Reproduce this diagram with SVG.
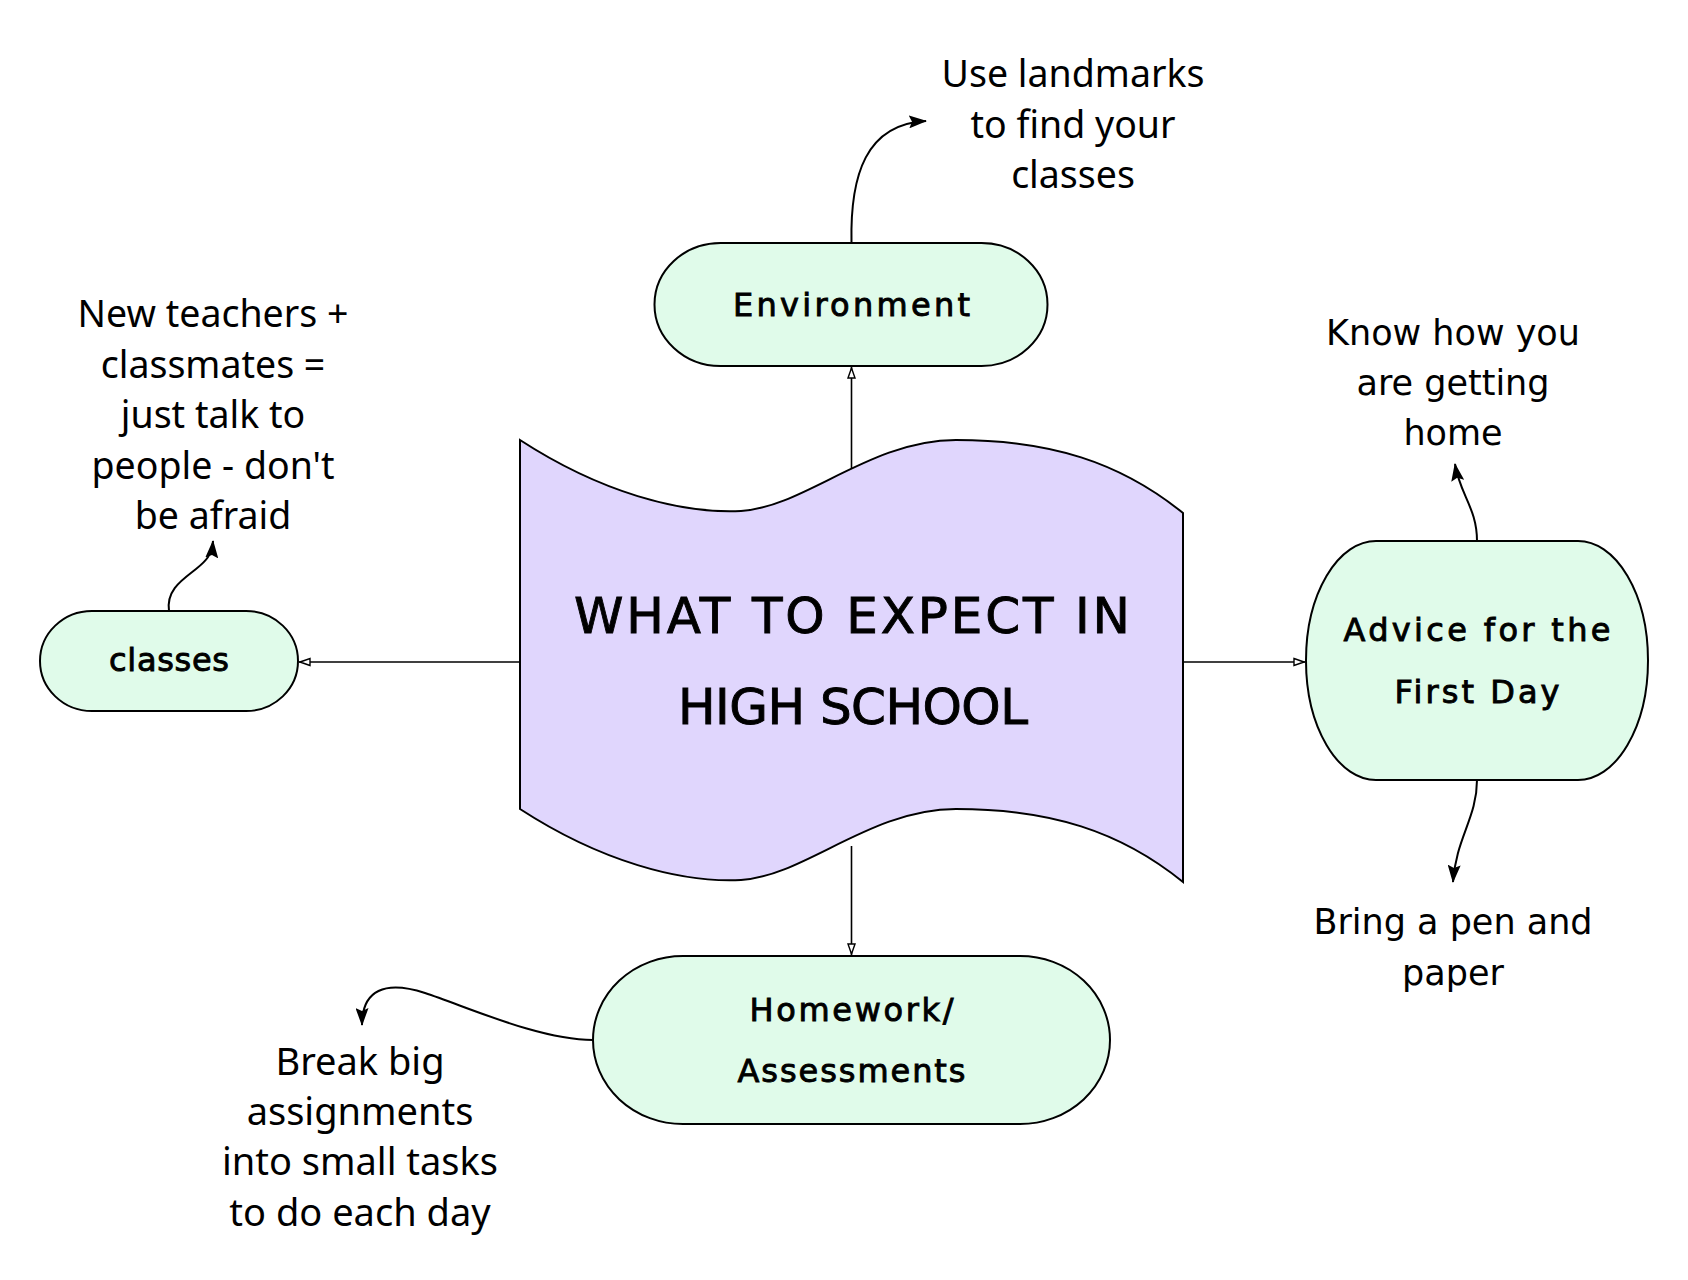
<svg xmlns="http://www.w3.org/2000/svg" width="1688" height="1280" viewBox="0 0 1688 1280">
<defs>
<style>
.node{fill:#e0fbea;stroke:#000;stroke-width:2}
.main{fill:#e0d6fd;stroke:#000;stroke-width:2}
.hand{font-family:"DejaVu Sans",sans-serif;fill:#000;stroke:#000;stroke-width:0.9;text-anchor:middle;dominant-baseline:central}
.lbl{font-family:"Noto Sans",sans-serif;font-size:37.5px;fill:#000;text-anchor:middle;dominant-baseline:central}
.lbl2{font-family:"DejaVu Sans",sans-serif;font-size:35px;fill:#000;text-anchor:middle;dominant-baseline:central}
.cond{font-family:"Noto Sans",sans-serif;font-size:38px;fill:#000;text-anchor:middle;dominant-baseline:central}
.c1{fill:none;stroke:#000;stroke-width:1.6;marker-end:url(#open)}
.c2{fill:none;stroke:#000;stroke-width:2;marker-end:url(#solid)}
</style>
<marker id="open" viewBox="0 0 12 10" refX="12" refY="5" markerWidth="12" markerHeight="10" orient="auto" markerUnits="userSpaceOnUse">
<path d="M1,1.5 L11,5 L1,8.5 Z" fill="#fff" stroke="#000" stroke-width="1.4"/>
</marker>
<marker id="solid" viewBox="0 0 18 13" refX="17" refY="6.5" markerWidth="18" markerHeight="13" orient="auto" markerUnits="userSpaceOnUse">
<path d="M0,0 L18,6.5 L0,13 L3,6.5 Z" fill="#000"/>
</marker>
</defs>

<g id="connectors">
<path class="c1" d="M851.5,474 L851.5,367"/>
<path class="c1" d="M851.5,846 L851.5,955"/>
<path class="c1" d="M520,662 L299,662"/>
<path class="c1" d="M1183,662 L1305,662"/>
<path class="c2" d="M851.5,243 C850,175 866,124 926,121"/>
<path class="c2" d="M169,611 C166,590 182,580 196,569 C206,561 212,555 213,541"/>
<path class="c2" d="M1477,541 C1477,508 1460,495 1455,464"/>
<path class="c2" d="M1477,780 C1477,818 1456,838 1453,882"/>
<path class="c2" d="M593,1040 C540,1040 470,1008 425,993 C385,980 362,990 362,1025"/>
</g>

<g id="main">
<path class="main" d="M520,440 C600,492 680,514 741,511 C805,507 870,440 956,440 C1050,440 1120,462 1183,513 L1183,882 C1120,831 1050,809 956,809 C870,809 805,876 741,880 C680,883 600,861 520,809 Z"/>
<text class="hand" x="852" y="616" font-size="50" stroke-width="1.5" textLength="556" lengthAdjust="spacing">WHAT TO EXPECT IN</text>
<text class="hand" x="853" y="707" font-size="50" stroke-width="1.5" textLength="350" lengthAdjust="spacing">HIGH SCHOOL</text>
</g>

<g id="environment">
<rect class="node" x="654.5" y="243" width="393" height="123" rx="66" ry="61.5"/>
<text class="hand" x="851.5" y="305" font-size="32" textLength="237" lengthAdjust="spacing">Environment</text>
</g>

<g id="classes">
<rect class="node" x="40" y="611" width="258" height="100" rx="52" ry="50"/>
<text class="hand" x="169" y="660" font-size="32" textLength="120" lengthAdjust="spacing">classes</text>
</g>

<g id="advice">
<rect class="node" x="1306" y="541" width="342" height="239" rx="70" ry="119.5"/>
<text class="hand" x="1477" y="630" font-size="32" textLength="267" lengthAdjust="spacing">Advice for the</text>
<text class="hand" x="1477" y="692" font-size="32" textLength="165" lengthAdjust="spacing">First Day</text>
</g>

<g id="homework">
<rect class="node" x="593" y="956" width="517" height="168" rx="90" ry="84"/>
<text class="hand" x="851.5" y="1010" font-size="32" textLength="204" lengthAdjust="spacing">Homework/</text>
<text class="hand" x="851.5" y="1071" font-size="32" textLength="228" lengthAdjust="spacing">Assessments</text>
</g>

<g id="label-landmarks">
<text class="lbl" x="1073" y="72">Use landmarks</text>
<text class="lbl" x="1073" y="123">to find your</text>
<text class="lbl" x="1073" y="173">classes</text>
</g>

<g id="label-teachers">
<text class="lbl" x="213" y="312">New teachers +</text>
<text class="lbl" x="213" y="363">classmates =</text>
<text class="lbl" x="213" y="413">just talk to</text>
<text class="lbl" x="213" y="464">people - don't</text>
<text class="lbl" x="213" y="514">be afraid</text>
</g>

<g id="label-home">
<text class="lbl2" x="1453" y="333">Know how you</text>
<text class="lbl2" x="1453" y="383">are getting</text>
<text class="lbl2" x="1453" y="433">home</text>
</g>

<g id="label-pen">
<text class="lbl2" x="1453" y="922">Bring a pen and</text>
<text class="lbl2" x="1453" y="973">paper</text>
</g>

<g id="label-break">
<text class="cond" x="360" y="1060">Break big</text>
<text class="cond" x="360" y="1110">assignments</text>
<text class="cond" x="360" y="1160">into small tasks</text>
<text class="cond" x="360" y="1211">to do each day</text>
</g>
</svg>
